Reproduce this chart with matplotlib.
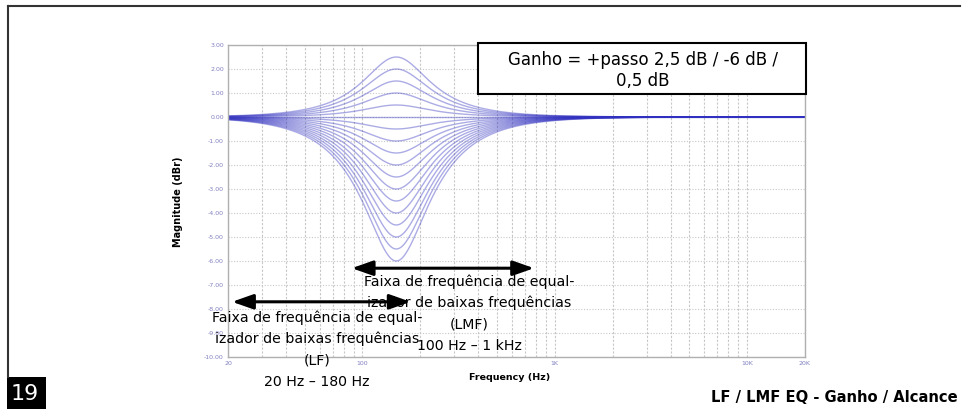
"""LF / LMF EQ gain sweep: peaking-filter magnitude responses on a log frequency axis."""
import numpy as np
import matplotlib.pyplot as plt
from matplotlib.patches import Rectangle
from matplotlib.ticker import FixedLocator, NullFormatter

# gain steps of the sweep (dB), +2.5 down to -6 in 0.5 dB steps
GAINS = [2.5, 2.0, 1.5, 1.0, 0.5, 0.0, -0.5, -1.0, -1.5, -2.0, -2.5, -3.0,
         -3.5, -4.0, -4.5, -5.0, -5.5, -6.0]
CENTER_HZ = 150.0
Q = 1.0

Y_TICKS = [3, 2, 1, 0, -1, -2, -3, -4, -5, -6, -7, -8, -9, -10]
X_TICKS = [20, 100, 1000, 10000, 20000]
X_TICK_LABELS = ["20", "100", "1K", "10K", "20K"]

LF_RANGE = (21, 178)      # arrow span, Hz
LMF_RANGE = (88, 780)
LF_ARROW_DB = -7.7
LMF_ARROW_DB = -6.3

LF_LINES = ["Faixa de frequência de equal-", "izador de baixas frequências", "(LF)", "20 Hz – 180 Hz"]
LMF_LINES = ["Faixa de frequência de equal-", "izador de baixas frequências", "(LMF)", "100 Hz – 1 kHz"]
GAIN_LINES = ["Ganho = +passo 2,5 dB / -6 dB /", "0,5 dB"]

W, H = 969, 409
FONT = "DejaVu Sans"


def peaking_db(f, gain_db, f0, q):
    """Magnitude (dB) of an analog peaking EQ section."""
    a = 10 ** (gain_db / 40.0)
    w = f / f0
    re = 1 - w ** 2
    num = re ** 2 + (w * a / q) ** 2
    den = re ** 2 + (w / (a * q)) ** 2
    return 10 * np.log10(num / den)


def fx(px):
    return px / W


def fy(py):
    return 1 - py / H


def text_block(fig, x, ys, lines, **kw):
    for y, line in zip(ys, lines):
        fig.text(fx(x), fy(y), line, ha="center", va="center", family=FONT, **kw)


def main():
    fig = plt.figure(figsize=(W / 100, H / 100), dpi=100)
    fig.patch.set_facecolor("white")

    # slide frame
    fig.add_artist(plt.Line2D([fx(8), fx(8)], [fy(377), fy(6)], color="#333333", lw=1.5))
    fig.add_artist(plt.Line2D([fx(8), fx(960)], [fy(6), fy(6)], color="#333333", lw=1.5))

    ax = fig.add_axes([fx(228), fy(357), fx(805) - fx(228), fy(45) - fy(357)])
    freqs = np.logspace(np.log10(20), np.log10(20000), 800)
    for g in GAINS:
        ax.plot(freqs, peaking_db(freqs, g, CENTER_HZ, Q), color="#3030c0", lw=1.0, alpha=0.4)

    ax.set_xscale("log")
    ax.set_xlim(20, 20000)
    ax.set_ylim(-10, 3)
    ax.xaxis.set_major_locator(FixedLocator(X_TICKS))
    ax.set_xticklabels(X_TICK_LABELS)
    ax.xaxis.set_minor_formatter(NullFormatter())
    ax.set_yticks(Y_TICKS)
    ax.set_yticklabels([f"{v:.2f}" for v in Y_TICKS])
    ax.tick_params(which="both", length=0, labelsize=4.5, labelcolor="#8080c0", pad=3)
    ax.grid(True, which="both", axis="x", color="#c8c8c8", lw=0.8, ls=(0, (2, 1.5)))
    ax.grid(True, which="major", axis="y", color="#c8c8c8", lw=0.8, ls=(0, (1, 1.5)))
    for s in ax.spines.values():
        s.set_color("#b0b0b0")
        s.set_linewidth(1.0)

    fig.text(fx(178), fy(202), "Magnitude (dBr)", rotation=90, ha="center", va="center",
             fontsize=7, fontweight="bold", family=FONT)
    fig.text(fx(510), fy(378), "Frequency (Hz)", ha="center", va="center",
             fontsize=6.8, fontweight="bold", family=FONT)

    # range arrows
    for (lo, hi), y in ((LF_RANGE, LF_ARROW_DB), (LMF_RANGE, LMF_ARROW_DB)):
        ax.annotate("", xy=(hi, y), xytext=(lo, y), annotation_clip=False,
                    arrowprops=dict(arrowstyle="<|-|>,head_length=0.85,head_width=0.3",
                                    mutation_scale=15, color="black", lw=2.2,
                                    shrinkA=0, shrinkB=0))

    text_block(fig, 317, [318, 339, 361, 382], LF_LINES, fontsize=10.2)
    text_block(fig, 469, [282, 303, 325, 346], LMF_LINES, fontsize=10.2)

    # gain annotation box
    fig.add_artist(Rectangle((fx(478), fy(94)), fx(806) - fx(478), fy(43) - fy(94),
                             transform=fig.transFigure, facecolor="white", edgecolor="black", lw=1.5))
    text_block(fig, 643, [60, 81], GAIN_LINES, fontsize=12)

    # page number and footer title
    fig.add_artist(Rectangle((fx(7), 0), fx(46) - fx(7), fy(377), transform=fig.transFigure,
                             facecolor="black", edgecolor="none"))
    fig.text(fx(25), fy(394), "19", ha="center", va="center", color="white", fontsize=16, family=FONT)
    fig.text(fx(958), fy(398), "LF / LMF EQ - Ganho / Alcance", ha="right", va="center",
             fontsize=10.6, fontweight="bold", family=FONT)

    fig.savefig("out.png", dpi=100, facecolor="white")


if __name__ == "__main__":
    main()
